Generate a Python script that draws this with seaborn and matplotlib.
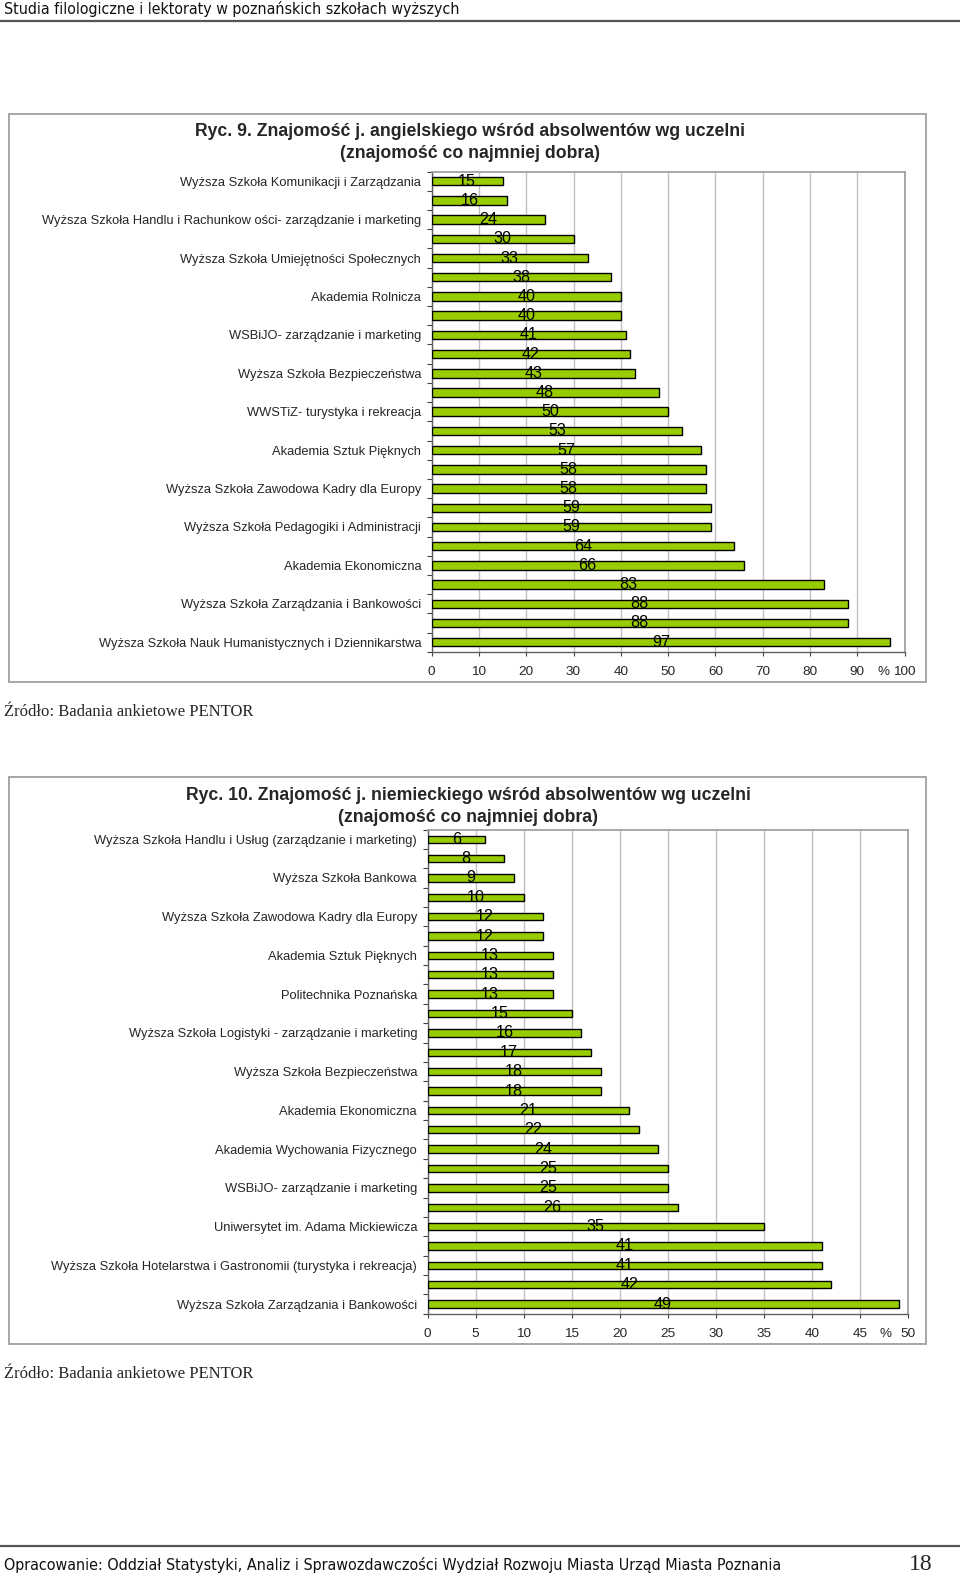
import numpy as np
import pandas as pd
import matplotlib
matplotlib.use("Agg")
import matplotlib.pyplot as plt
import seaborn as sns
from matplotlib.patches import Rectangle
from matplotlib.lines import Line2D
from matplotlib.ticker import FixedLocator

sns.set_theme(style="white")
plt.rcParams["font.family"] = ["Liberation Sans", "DejaVu Sans"]

# ---------------- data ----------------
header_text = "Studia filologiczne i lektoraty w poznańskich szkołach wyższych"
footer_text = ("Opracowanie: Oddział Statystyki, Analiz i Sprawozdawczości Wydział Rozwoju "
               "Miasta Urząd Miasta Poznania")
page_number = "18"
source_text = "Źródło: Badania ankietowe PENTOR"

title_en = ["Ryc. 9. Znajomość j. angielskiego wśród absolwentów wg uczelni",
            "(znajomość co najmniej dobra)"]
values_en = [15, 16, 24, 30, 33, 38, 40, 40, 41, 42, 43, 48, 50, 53, 57, 58, 58, 59, 59,
             64, 66, 83, 88, 88, 97]
labels_en = [
    "Wyższa Szkoła Komunikacji i Zarządzania",
    "Wyższa Szkoła Handlu i Rachunkow ości- zarządzanie i marketing",
    "Wyższa Szkoła Umiejętności Społecznych",
    "Akademia Rolnicza",
    "WSBiJO- zarządzanie i marketing",
    "Wyższa Szkoła Bezpieczeństwa",
    "WWSTiZ- turystyka i rekreacja",
    "Akademia Sztuk Pięknych",
    "Wyższa Szkoła Zawodowa Kadry dla Europy",
    "Wyższa Szkoła Pedagogiki i Administracji",
    "Akademia Ekonomiczna",
    "Wyższa Szkoła Zarządzania i Bankowości",
    "Wyższa Szkoła Nauk Humanistycznych i Dziennikarstwa",
]
ticks_en = [0, 10, 20, 30, 40, 50, 60, 70, 80, 90, 100]

title_de = ["Ryc. 10. Znajomość j. niemieckiego wśród absolwentów wg uczelni",
            "(znajomość co najmniej dobra)"]
values_de = [6, 8, 9, 10, 12, 12, 13, 13, 13, 15, 16, 17, 18, 18, 21, 22, 24, 25, 25, 26,
             35, 41, 41, 42, 49]
labels_de = [
    "Wyższa Szkoła Handlu i Usług (zarządzanie i marketing)",
    "Wyższa Szkoła Bankowa",
    "Wyższa Szkoła Zawodowa Kadry dla Europy",
    "Akademia Sztuk Pięknych",
    "Politechnika Poznańska",
    "Wyższa Szkoła Logistyki - zarządzanie i marketing",
    "Wyższa Szkoła Bezpieczeństwa",
    "Akademia Ekonomiczna",
    "Akademia Wychowania Fizycznego",
    "WSBiJO- zarządzanie i marketing",
    "Uniwersytet im. Adama Mickiewicza",
    "Wyższa Szkoła Hotelarstwa i Gastronomii (turystyka i rekreacja)",
    "Wyższa Szkoła Zarządzania i Bankowości",
]
ticks_de = [0, 5, 10, 15, 20, 25, 30, 35, 40, 45, 50]

# ---------------- layout helpers ----------------
W, H = 960, 1578
fig = plt.figure(figsize=(W / 100, H / 100), dpi=100)
fig.patch.set_facecolor("white")


def fx(px):
    return px / W


def fy(py):
    return 1 - py / H


def box(x0, y0, x1, y1):
    fig.add_artist(Rectangle((fx(x0), fy(y1)), (x1 - x0) / W, (y1 - y0) / H,
                             transform=fig.transFigure, fill=False,
                             edgecolor="#a6a6a6", lw=1.4))


def draw_chart(rect_px, values, labels, ticks, bar_w, pct_x):
    x0, y0, x1, y1 = rect_px
    ax = fig.add_axes([fx(x0), fy(y1), (x1 - x0) / W, (y1 - y0) / H])
    df = pd.DataFrame({"pos": np.arange(len(values)), "val": values})
    sns.barplot(data=df, x="val", y="pos", orient="h", color="#99CC00",
                saturation=1, edgecolor="black", linewidth=1.0, width=bar_w,
                ax=ax, zorder=3)
    n = len(values)
    ax.set_xlim(ticks[0], ticks[-1])
    ax.set_ylim(n - 0.5, -0.5)
    ax.set_yticks(np.arange(0, n, 2))
    ax.set_yticklabels(labels, fontsize=9.25)
    ax.yaxis.set_minor_locator(FixedLocator(np.arange(-0.5, n, 1)))
    ax.tick_params(axis="y", which="major", length=0, pad=7.5)
    ax.tick_params(axis="y", which="minor", left=True, length=3.5,
                   width=0.8, color="#404040")
    ax.set_xticks(ticks)
    ax.set_xticklabels([str(t) for t in ticks], fontsize=9.7)
    ax.tick_params(axis="x", which="major", bottom=True, length=3, width=0.8,
                   color="#404040", pad=7.5)
    ax.grid(axis="x", color="#c0c0c0", lw=1.0, zorder=0)
    ax.grid(axis="y", visible=False)
    ax.set_axisbelow(True)
    ax.set_xlabel("")
    ax.set_ylabel("")
    for s in ["top", "right"]:
        ax.spines[s].set_visible(True)
        ax.spines[s].set_color("#9a9a9a")
        ax.spines[s].set_linewidth(1.2)
    for s in ["left", "bottom"]:
        ax.spines[s].set_visible(True)
        ax.spines[s].set_color("#606060")
        ax.spines[s].set_linewidth(1.0)
    ax.bar_label(ax.containers[0], labels=[str(v) for v in values],
                 label_type="center", fontsize=11.6, color="black", zorder=5)
    ax.annotate("%", xy=(pct_x, 0), xycoords=ax.get_xaxis_transform(),
                xytext=(0, -10.5), textcoords="offset points",
                ha="center", va="top", fontsize=9.7)
    return ax


# ---------------- page header ----------------
fig.text(fx(4), fy(9), header_text, ha="left", va="center", fontsize=11.4,
         family=["DejaVu Sans"], fontstretch="condensed", color="#111111")
fig.add_artist(Line2D([0, 1], [fy(20.5), fy(20.5)], transform=fig.transFigure,
                      color="#555555", lw=1.6))

# ---------------- chart 1 ----------------
box(9, 114, 926, 681.5)
fig.text(fx(470), fy(132), title_en[0], ha="center", va="center",
         fontsize=12.7, fontweight="bold")
fig.text(fx(470), fy(154), title_en[1], ha="center", va="center",
         fontsize=12.7, fontweight="bold")
draw_chart((431.6, 171.6, 904.6, 651.8), values_en, labels_en, ticks_en, 0.44, 95.6)
fig.text(fx(4), fy(712), source_text, ha="left", va="center", fontsize=12,
         family=["Liberation Serif"])

# ---------------- chart 2 ----------------
box(9, 777, 926, 1344)
fig.text(fx(468), fy(795), title_de[0], ha="center", va="center",
         fontsize=12.7, fontweight="bold")
fig.text(fx(468), fy(817), title_de[1], ha="center", va="center",
         fontsize=12.7, fontweight="bold")
draw_chart((427.5, 829.5, 908.3, 1313.8), values_de, labels_de, ticks_de, 0.38, 47.6)
fig.text(fx(4), fy(1374), source_text, ha="left", va="center", fontsize=12,
         family=["Liberation Serif"])

# ---------------- page footer ----------------
fig.add_artist(Line2D([0, 1], [fy(1546), fy(1546)], transform=fig.transFigure,
                      color="#555555", lw=1.6))
fig.text(fx(4), fy(1565), footer_text, ha="left", va="center", fontsize=11.5,
         family=["DejaVu Sans"], fontstretch="condensed", color="#111111")
fig.text(fx(921), fy(1564), page_number, ha="center", va="center", fontsize=17,
         family=["Liberation Serif"])

fig.savefig("out.png", dpi=100, facecolor="white")
